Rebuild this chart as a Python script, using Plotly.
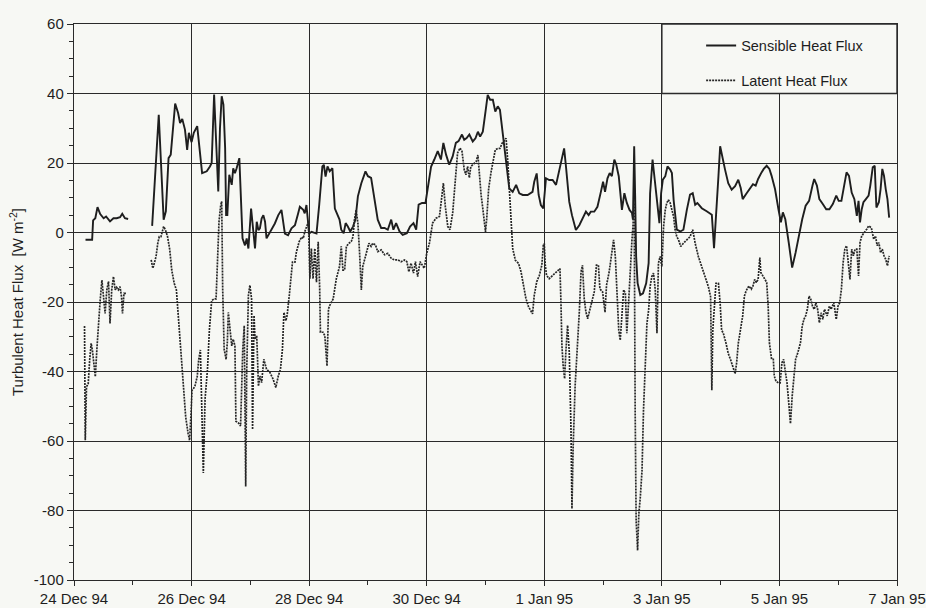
import pandas as pd
import plotly.graph_objects as go

# ---------------- data (hours after 24 Dec 1994 00:00, W m-2) ----------------
START = "1994-12-24"

sensible_hours = [
    4.7, 7.4, 7.8, 8.7, 9.6, 10.7, 12.1, 13.1, 14.7, 16.1, 17.4, 18.8, 19.7, 20.8, 22.1,
    27.0,
    31.9, 34.6, 36.6, 37.5, 38.6, 39.5, 41.3, 42.5, 43.3, 44.2, 45.3, 46.2, 46.9, 48.0, 48.9, 50.3, 52.3,
    54.2, 55.5, 56.2, 57.2, 58.0, 58.9, 59.6, 60.3, 61.0, 61.7, 62.1, 62.6, 63.4, 64.4, 65.0, 65.7, 66.4,
    67.5, 68.8, 69.8, 70.5, 71.2, 72.3, 73.2, 73.9, 74.6, 75.3, 75.9, 76.6, 77.3, 78.0, 78.6, 80.0, 82.0,
    83.4, 84.7, 86.1, 87.4, 88.8, 90.2, 91.5, 92.2, 93.6, 94.2, 94.9, 96.0, 97.0, 99.0, 100.1, 101.4,
    102.0, 102.7, 103.5, 104.4, 105.5, 106.5,
    108.4, 109.1, 110.1, 110.9, 111.8, 112.8, 113.9, 114.9, 115.9, 117.3, 119.0, 120.0, 121.3, 122.7,
    124.0, 125.4, 126.8, 128.1, 129.5, 130.4, 131.5, 132.9, 134.2, 135.9, 137.2, 138.6, 139.7, 140.7,
    142.1, 143.5, 144.8, 145.8, 147.1, 148.5, 149.8, 150.8, 151.9, 153.2, 154.6, 155.9, 157.0, 158.4,
    159.3, 160.3, 161.4,
    162.8, 163.9, 164.9, 165.8, 166.9, 168.0, 168.9, 169.9, 171.0, 172.0, 173.0, 173.9, 175.0, 176.4,
    177.7, 179.1, 180.5, 181.8, 183.2, 185.2, 187.2, 187.9, 188.9, 189.7, 190.6, 191.6, 192.7, 194.0,
    195.4, 196.8, 198.4, 199.5, 200.1, 200.8, 202.2, 203.3, 204.2, 204.9, 206.3, 207.6, 209.0, 210.1,
    211.0, 212.4, 213.7, 215.1, 216.0, 216.8, 217.8,
    218.7, 219.6, 220.6, 221.4, 222.4, 223.7, 224.7, 225.7, 226.8, 227.8, 228.2, 228.7, 229.1, 229.5,
    230.1, 231.2, 232.3, 233.6, 234.6, 235.2, 236.2, 237.3, 238.2, 239.0, 239.7, 240.4, 241.4, 242.3,
    243.4, 244.1, 244.8, 246.1, 247.5, 248.8, 250.2, 251.5, 252.6, 253.6, 254.5, 256.3, 258.3, 260.4,
    261.3, 262.1, 263.1, 263.8, 264.8, 265.8, 267.1, 268.5, 269.9, 271.2, 272.2,
    273.0, 274.4, 275.8, 277.2, 278.3, 279.3, 280.7, 281.6, 282.8, 283.9, 284.8, 286.2, 287.6, 288.6,
    289.4, 290.4, 291.8, 293.2, 294.6, 295.9, 297.3, 298.7, 300.1, 301.5, 302.2, 303.3, 304.3, 305.7,
    307.1, 308.4, 309.8, 311.2, 312.2, 313.3, 314.4, 315.4, 316.4, 317.5, 318.6, 319.6, 320.3, 320.9,
    321.6, 322.3, 323.3, 324.4, 325.1, 326.1, 326.9, 327.6, 328.6, 329.3, 330.0, 330.7, 331.4, 332.1,
    332.8,
]
sensible_values = [
    -2.1, -2.1, 3.5, 4.1, 7.3, 5.3, 4.1, 4.6, 3.2, 4.1, 4.1, 4.4, 5.4, 4.1, 3.9,
    None,
    1.9, 33.9, 3.7, 6.1, 21.4, 22.4, 37.1, 34.4, 31.5, 32.7, 29.6, 23.8, 28.7, 26.0, 28.7, 30.6, 17.1,
    17.6, 19.0, 20.0, 39.7, 26.2, 11.8, 30.0, 39.2, 36.8, 24.3, 5.0, 5.0, 16.6, 13.7, 18.5, 17.1, 18.5,
    21.4, -1.7, -3.7, -1.7, -4.6, 6.9, 0.2, -4.6, 3.1, 0.7, 1.2, 4.0, 5.0, 3.1, -1.7, 0.2, 2.6,
    5.0, 6.5, -0.3, -0.8, 1.2, 2.1, 5.5, 7.4, 6.5, 5.5, 7.9, -0.3, 0.2, -0.3, 7.9, 19.0,
    19.5, 16.1, 19.0, 17.6, 18.5, 6.9,
    3.7, 0.8, -0.2, 2.7, 1.7, 0.3, 1.7, 3.7, 10.4, 14.2, 17.6, 16.2, 15.7, 9.4,
    3.7, 1.3, 1.3, 0.8, 3.7, 0.8, 2.7, 0.3, -0.7, -0.2, 1.7, 2.7, 0.8, 8.0,
    8.5, 8.5, 15.2, 19.0, 21.0, 23.4, 21.0, 25.8, 22.4, 19.5, 21.9, 25.8, 26.3, 28.2,
    26.7, 27.2, 28.2,
    26.2, 27.1, 29.0, 27.6, 29.0, 34.8, 39.6, 38.2, 38.2, 34.8, 36.3, 35.3, 29.0, 19.4,
    12.7, 11.7, 13.7, 11.3, 10.8, 10.8, 11.7, 14.6, 17.0, 10.8, 7.9, 6.9, 15.6, 15.1,
    15.1, 13.7, 18.5, 22.3, 24.2, 19.4, 8.8, 5.0, 2.1, 0.7, 2.1, 4.0, 6.0, 5.0,
    6.0, 6.0, 7.4, 11.7, 14.6, 11.7, 15.6,
    17.1, 16.2, 21.0, 19.5, 16.2, 6.5, 11.3, 8.5, 6.5, 5.6, 3.7, 24.8, 10.4, -6.9,
    -14.6, -18.0, -17.5, -14.6, -8.8, 11.3, 21.0, 13.3, 6.5, 2.7, 11.3, 15.2, 16.2, 19.0,
    18.1, 17.1, 9.4, 0.8, 0.3, 0.8, 6.5, 10.9, 11.3, 8.0, 8.5, 7.0, 6.1, 5.1,
    -4.5, 6.5, 16.2, 24.8, 21.9, 18.1, 14.2, 12.3, 13.3, 15.2, 12.8,
    9.6, 11.1, 12.5, 13.9, 13.5, 15.4, 17.3, 18.3, 19.2, 18.3, 16.3, 12.5, 6.7, 2.9,
    5.8, 3.8, -2.9, -10.1, -5.8, -1.0, 3.8, 7.7, 9.1, 13.5, 15.4, 13.5, 9.6, 8.2,
    6.7, 6.7, 8.2, 10.6, 9.1, 9.1, 13.5, 17.3, 16.3, 11.5, 9.6, 4.8, 9.1, 2.9,
    6.7, 8.7, 9.6, 10.6, 13.5, 18.8, 19.2, 7.2, 8.7, 12.5, 18.3, 16.3, 12.5, 9.6,
    4.3,
]

latent_hours = [
    4.3, 4.6, 5.1, 5.8, 6.4, 7.0, 7.5, 8.0, 8.7, 9.4, 10.1, 10.7, 11.4, 12.1, 12.7, 13.4, 14.1, 14.7,
    15.4, 16.1, 16.8, 17.4, 18.1, 18.8, 19.4, 19.8, 20.4, 21.2,
    27.0,
    31.5, 32.2, 32.8, 33.5, 34.2, 34.8, 35.5, 36.6, 37.3, 38.2, 39.1, 39.9, 40.9, 41.8, 42.6, 43.6,
    44.2, 44.9, 45.6, 46.6, 47.2, 47.7, 48.2, 49.3, 50.3, 50.9, 51.6,
    52.8, 53.5, 54.5, 55.3, 56.2, 57.2, 58.0, 58.5, 59.2, 59.9, 60.3, 60.7, 61.3, 62.1, 62.6, 63.0,
    63.7, 64.4, 65.0, 65.7, 66.1, 67.1, 68.0, 68.9, 69.5, 70.1, 70.5, 71.2, 71.8, 72.5, 72.9, 73.5,
    73.9, 74.6, 75.3, 75.9, 76.6, 77.5, 78.6, 80.0, 81.3, 82.4, 83.4, 84.3, 85.1, 85.7, 86.5, 87.0,
    87.9, 88.4, 89.2, 90.2, 90.8, 91.9, 92.9, 93.6, 94.2, 95.2, 95.7, 96.3, 96.9, 97.6, 98.3, 99.0,
    99.7, 100.3, 100.6, 101.7, 102.4, 103.3, 103.9, 104.4, 105.8, 107.1,
    108.4, 109.1, 109.8, 110.5, 111.2, 112.2, 113.2, 113.9, 114.5, 115.2, 115.9, 116.6, 117.3, 117.9,
    118.6, 119.3, 120.4, 121.3, 122.0, 123.1, 124.0, 125.4, 126.8, 128.1, 129.5, 130.8, 132.2, 133.5,
    134.9, 135.9, 136.7, 137.6, 138.6, 139.4, 140.3, 141.3, 142.1, 143.0, 144.0, 145.1, 146.4, 147.8,
    149.2, 150.2, 150.8, 151.6, 152.6, 153.5, 154.6, 155.7, 156.6, 157.6, 158.4, 159.3, 160.0, 160.7,
    161.4, 162.0,
    164.2, 164.9, 165.5, 166.2, 166.9, 167.6, 168.0, 168.5, 169.3, 170.3, 171.2, 172.0, 173.0, 173.9,
    174.8, 175.7, 176.4, 177.1, 177.7, 178.4, 179.1, 180.2, 181.5, 182.5, 183.4, 184.5, 185.6, 186.6,
    187.2, 187.9, 188.9, 190.0, 191.0, 191.6, 192.0, 192.4, 192.9, 194.0, 195.4, 196.8, 198.4, 198.8,
    199.2, 199.7, 200.3, 200.8, 201.5, 202.2, 202.9, 203.3, 203.8, 204.6, 205.6, 206.3, 207.0, 207.6,
    208.3, 209.0, 209.7, 210.3, 211.0, 212.4, 213.3, 214.1, 214.7, 215.8, 216.8, 217.4, 218.5,
    219.6, 220.3, 221.0, 221.7, 222.4, 223.0, 223.7, 224.4, 225.1, 225.7, 226.4, 227.1, 227.8, 228.2,
    228.7, 229.1, 229.5, 230.1, 230.6, 231.2, 231.9, 232.5, 233.2, 233.9, 234.6, 235.2, 235.9, 236.6,
    237.3, 238.0, 238.6, 239.3, 240.0, 240.7, 241.4, 242.0, 242.7, 243.4, 244.1, 244.8, 245.4, 246.1,
    246.8, 247.7, 248.8, 250.2, 251.5, 252.6, 253.6, 254.9, 256.3, 257.6, 259.0, 259.9, 260.4, 260.8,
    261.3, 262.1, 263.1, 263.8, 264.4, 265.1, 266.2, 267.1, 268.1, 268.9, 269.9, 270.5, 271.2,
    273.0, 273.7, 274.4, 275.5, 276.5, 277.2, 277.9, 278.6, 279.3, 280.0, 280.4, 281.1, 282.1, 282.8,
    283.4, 283.9, 284.4, 284.8, 285.5, 285.9, 286.6, 287.6, 288.3, 289.0, 289.7, 290.4, 291.1, 291.8,
    292.5, 293.2, 293.9, 294.6, 295.5, 296.6, 297.3, 298.0, 298.7, 299.4, 300.1, 300.8, 301.5, 302.2,
    302.9, 303.6, 304.3, 305.0, 305.7, 306.4, 307.5, 308.4, 309.1, 310.2, 311.2, 311.9, 312.6, 313.3,
    314.0, 314.7, 315.4, 316.1, 316.8, 317.5, 318.2, 318.9, 319.6, 320.3, 320.9, 321.6, 322.8, 323.7,
    324.4, 325.5, 326.5, 327.2, 327.9, 328.6, 329.3, 330.0, 330.7, 331.4, 332.1, 332.8,
]
latent_values = [
    -26.9, -59.8, -44.4, -43.5, -36.7, -31.9, -33.8, -37.7, -41.5, -32.9, -24.2, -19.4, -13.7, -18.5,
    -23.3, -16.5, -14.1, -26.2, -16.5, -12.7, -16.5, -15.8, -16.5, -15.6, -18.5, -23.3, -17.5, -17.5,
    None,
    -7.9, -10.3, -8.8, -6.9, -3.1, -1.2, -1.2, 1.7, 0.8, -1.2, -5.0, -10.8, -14.6, -16.5, -24.2, -33.8,
    -40.6, -46.3, -53.1, -57.9, -59.8, -53.1, -45.4, -44.4, -41.5, -36.7, -33.8,
    -69.2, -48.0, -39.3, -27.8, -19.6, -19.1, -19.1, -8.5, 3.1, 7.9, 8.9, -16.2, -33.6, -36.5, -31.6, -23.0,
    -27.8, -32.6, -30.7, -32.6, -54.3, -54.8, -55.7, -33.6, -26.8, -73.1, -40.3, -18.1, -15.2, -19.1, -56.7, -23.9,
    -30.7, -29.7, -44.2, -41.3, -43.2, -36.5, -39.3, -40.3, -42.2, -44.6, -41.3, -39.3, -33.6, -23.0, -25.4, -23.9,
    -18.1, -13.3, -8.5, -8.5, -5.6, -2.7, -1.3, -1.7, 0.2, 2.1, 3.1, -13.3, -4.6, -13.3, -4.6, -14.3,
    -2.7, -16.2, -28.7, -28.7, -29.7, -38.4, -22.0, -21.0, -19.1, -13.3,
    -9.8, -4.0, -10.8, -10.8, -4.0, -3.1, -2.6, -1.2, 3.7, 6.5, 2.7, -6.0, -16.5, -9.8,
    -7.9, -6.0, -3.1, -4.0, -3.1, -3.6, -5.5, -5.0, -6.4, -6.0, -7.4, -7.9, -7.9, -8.4,
    -7.9, -8.4, -11.3, -8.8, -11.7, -8.4, -12.7, -8.4, -9.3, -10.3, -6.0, -3.1, 2.7, 4.1,
    4.6, 10.4, 14.2, 7.5, 1.7, 0.8, 5.6, 15.2, 22.9, 24.3, 23.4, 18.1, 16.6, 19.0,
    15.7, 19.0,
    20.4, 22.3, 16.5, 10.8, 6.9, 2.1, 0.2, 4.0, 12.7, 17.5, 21.3, 23.8, 24.2, 24.2,
    25.7, 26.6, 27.1, 20.4, 12.7, 3.1, -4.6, -8.0, -8.9, -11.3, -15.2, -19.0, -21.4, -22.9,
    -23.4, -18.1, -14.2, -12.3, -9.4, -3.7, -3.2, -9.4, -12.3, -13.3, -12.3, -11.3, -10.4, -20.0,
    -32.5, -38.3, -42.1, -34.4, -26.7, -34.4, -56.5, -79.5, -61.3, -44.0, -32.5, -22.9, -11.3, -9.4,
    -19.0, -22.9, -24.8, -22.9, -21.0, -17.1, -9.4, -9.4, -16.2, -17.1, -22.9, -15.2, -11.3,
    -5.0, -2.1, -6.9, -17.5, -28.1, -31.0, -22.3, -16.5, -17.5, -29.0, -20.4, -8.8, -2.1, 1.7,
    8.5, -51.2, -82.9, -91.5, -81.0, -76.2, -68.5, -51.2, -36.7, -26.2, -22.3, -15.6, -12.7, -11.7,
    -16.5, -29.0, -8.8, -6.9, -9.8, 1.7, 6.5, 8.5, 9.4, 8.5, 6.5, 4.6, 0.8, -1.2,
    -2.1, -4.0, -3.1, -2.1, -1.2, 0.8, -3.1, -6.9, -9.8, -12.7, -15.6, -18.5, -45.4, -28.1,
    -22.3, -14.6, -14.6, -20.4, -28.1, -29.0, -31.9, -34.8, -36.7, -38.7, -40.6, -37.7, -31.9,
    -24.0, -18.3, -16.8, -15.4, -16.3, -15.4, -13.5, -14.4, -13.5, -7.2, -11.5, -12.5, -13.5, -14.4,
    -21.2, -31.7, -34.6, -36.5, -36.5, -41.3, -42.8, -43.3, -43.3, -37.5, -36.5, -39.4, -43.3, -49.0,
    -55.0, -47.1, -40.4, -36.5, -34.6, -31.7, -26.9, -25.0, -24.0, -22.1, -18.3, -19.2, -21.2, -22.1,
    -20.2, -22.1, -26.0, -23.1, -25.0, -22.1, -24.0, -21.2, -22.1, -20.2, -25.0, -21.2, -20.2, -16.3,
    -8.7, -4.8, -3.8, -8.7, -13.5, -4.8, -6.7, -4.8, -4.8, -12.5, -2.9, -1.0, 0.0, 1.0,
    1.9, 1.4, -1.9, -1.0, -3.8, -2.9, -5.8, -4.8, -6.7, -7.7, -9.6, -6.7,
]

tick_dates = ["1994-12-24", "1994-12-26", "1994-12-28", "1994-12-30",
              "1995-01-01", "1995-01-03", "1995-01-05", "1995-01-07"]
tick_labels = ["24 Dec 94", "26 Dec 94", "28 Dec 94", "30 Dec 94",
               "1 Jan 95", "3 Jan 95", "5 Jan 95", "7 Jan 95"]
y_ticks = [-100, -80, -60, -40, -20, 0, 20, 40, 60]
y_tick_labels = ["-100", "-80", "-60", "-40", "-20", "0", "20", "40", "60"]

series_names = ["Sensible Heat Flux", "Latent Heat Flux"]

# ---------------- styling ----------------
BG = "#f7f8f4"
INK = "#1e1e1e"
GRID = "#2a2a2a"
FONT = "Liberation Sans, Arial, Helvetica, sans-serif"


def to_time(hours):
    base = pd.Timestamp(START)
    return [base + pd.to_timedelta(h, unit="h") for h in hours]


fig = go.Figure()
fig.add_trace(go.Scatter(
    x=to_time(sensible_hours), y=sensible_values, mode="lines",
    name=series_names[0], legendgroup="s", connectgaps=False,
    line=dict(color=INK, width=1.9),
))
fig.add_trace(go.Scatter(
    x=to_time(latent_hours), y=latent_values, mode="lines",
    name=series_names[1], legendgroup="l", connectgaps=False,
    line=dict(color="#262626", width=1.7, dash="2px,1px"),
))

# legend frame occupying the top-right grid cells (3 Jan - 7 Jan, 40 - 60)
legend_frame_x = (tick_dates[5], tick_dates[7])
legend_frame_y = (y_ticks[7], y_ticks[8])
fig.add_shape(type="rect", xref="x", yref="y",
              x0=legend_frame_x[0], x1=legend_frame_x[1],
              y0=legend_frame_y[0], y1=legend_frame_y[1],
              fillcolor=BG, line=dict(color=GRID, width=1.4), layer="above")

fig.update_layout(
    width=926, height=608,
    margin=dict(l=74, r=29, t=24, b=28, autoexpand=False),
    paper_bgcolor=BG, plot_bgcolor=BG,
    font=dict(family=FONT, size=15, color=INK),
    showlegend=True,
    legend=dict(x=0.762, y=0.99, xanchor="left", yanchor="top",
                bgcolor="rgba(0,0,0,0)", borderwidth=0,
                tracegroupgap=13, font=dict(size=14.5, color=INK)),
)

fig.update_xaxes(
    type="date", range=[tick_dates[0], tick_dates[-1]], automargin=False,
    tickvals=tick_dates, ticktext=tick_labels, ticklabeloverflow="allow",
    showgrid=True, gridcolor=GRID, gridwidth=1.4,
    showline=True, linecolor=GRID, linewidth=1.4, mirror=True,
    ticks="outside", ticklen=5, tickcolor=GRID, tickwidth=1.4,
    minor=dict(ticks="outside", ticklen=4, tickcolor=GRID, dtick=86400000,
               showgrid=False),
    zeroline=False, tickfont=dict(size=15),
)
fig.update_yaxes(
    range=[-100, 60], tickvals=y_ticks, ticktext=y_tick_labels, automargin=False,
    showgrid=True, gridcolor=GRID, gridwidth=1.4,
    showline=True, linecolor=GRID, linewidth=1.4, mirror=True,
    ticks="outside", ticklen=6, tickcolor=GRID, tickwidth=1.4,
    minor=dict(ticks="outside", ticklen=4, tickcolor=GRID, dtick=5, showgrid=False),
    zeroline=False, tickfont=dict(size=15),
    title=dict(text="Turbulent Heat Flux  [W m<sup>-2</sup>]",
               font=dict(size=15), standoff=6),
)

fig.write_html("out.html")
